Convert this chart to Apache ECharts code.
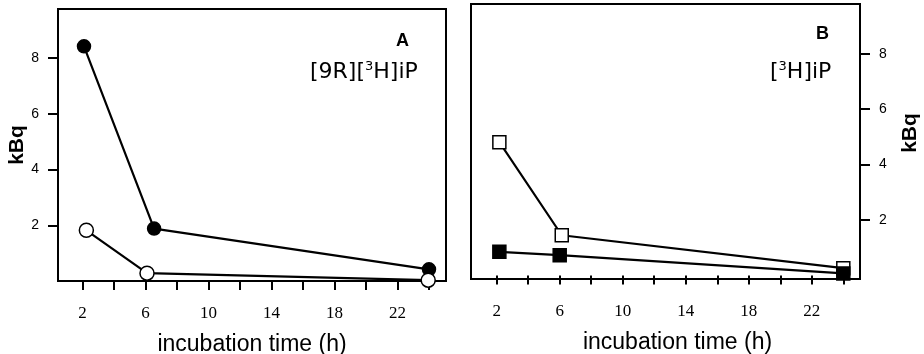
<!DOCTYPE html>
<html>
<head>
<meta charset="utf-8">
<script src="https://cdn.jsdelivr.net/npm/echarts@6/dist/echarts.min.js"></script>
<style>html,body{margin:0;padding:0;background:#fff;}#c{width:924px;height:354px;}</style>
</head>
<body>
<div id="c"></div>
<script>
// Panel A: [9R][3H]iP
var timeAFilled = [2.1, 6.55, 24.0];
var kbqAFilled = [8.42, 1.88, 0.42];
var timeAOpen = [2.25, 6.1, 23.95];
var kbqAOpen = [1.82, 0.28, 0.03];
// Panel B: [3H]iP
var timeBOpen = [2.17, 6.13, 24.0];
var kbqBOpen = [4.81, 1.45, 0.26];
var timeBFilled = [2.17, 6.0, 24.0];
var kbqBFilled = [0.85, 0.73, 0.07];
// ticks
var xTicks = [2, 4, 6, 8, 10, 12, 14, 16, 18, 20, 22, 24];
var xLabels = [2, 6, 10, 14, 18, 22];
var yTicks = [2, 4, 6, 8];

function pairs(xs, ys) { return xs.map(function (x, i) { return [x, ys[i]]; }); }

var chart = echarts.init(document.getElementById('c'), null, {renderer: 'canvas'});

function xAxis(gi, min, max, padLeft) {
  return {
    type: 'value', gridIndex: gi, min: min, max: max,
    axisLine: {show: false},
    splitLine: {show: false},
    axisTick: {show: true, customValues: xTicks, length: 9, lineStyle: {color: '#000', width: 2}},
    axisLabel: {customValues: xLabels, margin: 24, color: '#000', fontFamily: 'Liberation Serif', fontSize: 17},
    name: 'incubation time (h)', nameLocation: 'middle', nameGap: 52,
    nameTextStyle: {color: '#000', fontFamily: 'Liberation Sans', fontSize: 23, padding: [0, 0, 0, padLeft]}
  };
}
function yAxis(gi, min, max, pos, gap, pad) {
  return {
    type: 'value', gridIndex: gi, min: min, max: max, position: pos,
    axisLine: {show: false},
    splitLine: {show: false},
    axisTick: {show: true, customValues: yTicks, length: 10, lineStyle: {color: '#000', width: 2}},
    axisLabel: {customValues: yTicks, margin: 19, color: '#000', fontFamily: 'Liberation Sans', fontSize: 14},
    name: 'kBq', nameLocation: 'middle', nameGap: gap, nameRotate: 90,
    nameTextStyle: {color: '#000', fontFamily: 'Liberation Sans', fontWeight: 'bold', fontSize: 21, padding: pad}
  };
}
function series(xi, yi, xs, ys, symbol, size, fill) {
  return {
    type: 'line', xAxisIndex: xi, yAxisIndex: yi, data: pairs(xs, ys),
    symbol: symbol, symbolSize: size, showSymbol: true,
    lineStyle: {color: '#000', width: 2.2},
    itemStyle: {color: fill, borderColor: '#000', borderWidth: 1.5},
    animation: false, silent: true
  };
}

var insetFont = 'DejaVu Sans';
chart.setOption({
  animation: false,
  grid: [
    {left: 58, top: 9, width: 388, height: 272, show: true, borderColor: '#000', borderWidth: 2, backgroundColor: 'transparent', containLabel: false, outerBoundsMode: 'none'},
    {left: 471, top: 4, width: 389, height: 275, show: true, borderColor: '#000', borderWidth: 2, backgroundColor: 'transparent', containLabel: false, outerBoundsMode: 'none'}
  ],
  xAxis: [xAxis(0, 0.45, 25.08, 0), xAxis(1, 0.37, 25.06, 24)],
  yAxis: [yAxis(0, 0, 9.76, 'left', 24, 0), yAxis(1, -0.13, 9.8, 'right', 40, [0, 0, 0, 17])],
  series: [
    series(0, 0, timeAFilled, kbqAFilled, 'circle', 13, '#000'),
    series(0, 0, timeAOpen, kbqAOpen, 'circle', 14, '#fff'),
    series(1, 1, timeBOpen, kbqBOpen, 'rect', 13, '#fff'),
    series(1, 1, timeBFilled, kbqBFilled, 'rect', 13, '#000')
  ],
  graphic: [
    {type: 'text', left: 396, top: 32, style: {text: 'A', font: 'bold 18px "Liberation Sans"', fill: '#000'}},
    {type: 'text', left: 816, top: 25, style: {text: 'B', font: 'bold 18px "Liberation Sans"', fill: '#000'}},
    {type: 'text', left: 310, top: 60, style: {
      text: '{t|[9R][}{s|3}{t|H]iP}', fill: '#000',
      rich: {t: {fontFamily: insetFont, fontSize: 22, lineHeight: 24, fill: '#000'},
             s: {fontFamily: insetFont, fontSize: 13, lineHeight: 14, verticalAlign: 'top', fill: '#000'}}
    }},
    {type: 'text', left: 770, top: 60, style: {
      text: '{t|[}{s|3}{t|H]iP}', fill: '#000',
      rich: {t: {fontFamily: insetFont, fontSize: 22, lineHeight: 24, fill: '#000'},
             s: {fontFamily: insetFont, fontSize: 13, lineHeight: 14, verticalAlign: 'top', fill: '#000'}}
    }}
  ]
});
</script>
</body>
</html>
